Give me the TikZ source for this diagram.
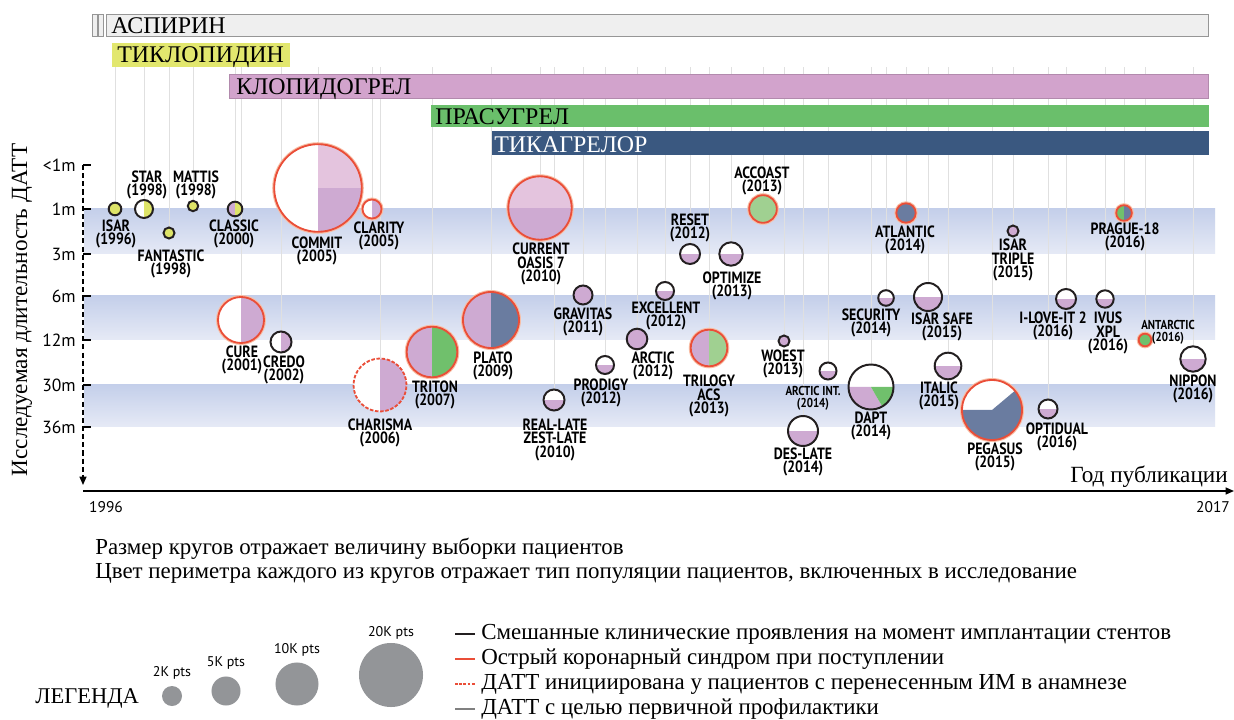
\documentclass[tikz,border=0pt]{standalone}
\usepackage{fontspec}
\setmainfont{Liberation Serif}
\newfontfamily\gill{PT Sans}[FakeStretch=0.85]
\newfontfamily\gillwide{PT Sans}
\usetikzlibrary{arrows.meta,backgrounds}

% Colours of the drugs and of the circles
\definecolor{aspfill}{RGB}{239,239,239}
\definecolor{aspline}{RGB}{150,150,150}
\definecolor{ticl}{RGB}{226,231,110}
\definecolor{clop}{RGB}{210,163,204}
\definecolor{pras}{RGB}{106,191,107}
\definecolor{tica}{RGB}{58,88,128}
\definecolor{cpurple}{RGB}{206,170,210}
\definecolor{cpink}{RGB}{228,196,222}
\definecolor{cyellow}{RGB}{222,228,104}
\definecolor{cgreen}{RGB}{112,192,108}
\definecolor{clgreen}{RGB}{160,208,145}
\definecolor{cblue}{RGB}{106,124,160}
\definecolor{acsred}{RGB}{234,78,56}
\definecolor{acsglow}{RGB}{248,190,165}
\definecolor{darkline}{RGB}{35,31,32}
\definecolor{bandtop}{RGB}{196,207,234}
\definecolor{bandbot}{RGB}{230,234,246}
\definecolor{guidegray}{RGB}{224,224,224}
\definecolor{leggray}{RGB}{147,149,152}

\tikzset{
  trial/.style={circle, inner sep=0pt, minimum size=#1*0.05cm},
  mixed/.style={draw=darkline, line width=1.4pt},
  acs/.style={draw=acsred, line width=1.3pt, preaction={draw=acsglow, line width=2.8pt}},
  priormi/.style={draw=acsred, line width=1.3pt, dash pattern=on 2.5pt off 1.2pt},
  quads/.style n args={4}{path picture={
      \fill[#1] (path picture bounding box.west) rectangle (path picture bounding box.north);
      \fill[#2] (path picture bounding box.center) rectangle (path picture bounding box.north east);
      \fill[#3] (path picture bounding box.south west) rectangle (path picture bounding box.center);
      \fill[#4] (path picture bounding box.south) rectangle (path picture bounding box.east);}},
  lowfill/.style={quads={white}{white}{cpurple}{cpurple}},
  lbl/.style={font=\gill\bfseries\fontsize{11.6}{9.9}\selectfont, align=center, inner sep=0pt},
  smalllbl/.style={font=\gill\bfseries\fontsize{9.2}{8.8}\selectfont, align=center, inner sep=0pt},
  barlbl/.style={anchor=base west, inner sep=0pt, font=\fontsize{17}{18}\selectfont},
  ticklbl/.style={anchor=east, inner sep=0pt, font=\gillwide\fontsize{12.5}{13}\selectfont},
  yearlbl/.style={inner sep=0pt, font=\gillwide\fontsize{11}{12}\selectfont},
  ptslbl/.style={inner sep=0pt, font=\gillwide\fontsize{10}{12}\selectfont},
  captext/.style={anchor=west, inner sep=0pt, font=\fontsize{16.3}{17}\selectfont},
  legtext/.style={anchor=west, inner sep=0pt, font=\fontsize{16.3}{17}\selectfont},
  axisline/.style={draw=black, line width=0.9pt},
  guide/.style={draw=guidegray, line width=0.6pt},
}

\begin{document}
\begin{tikzpicture}[x=0.025cm, y=-0.025cm]
\useasboundingbox (0,0) rectangle (1234,720);
\coordinate (top) at (0,67);

% Draw the drug bars
\draw[aspline, fill=aspfill] (92,14) rectangle (97,36);
\draw[aspline, fill=aspfill] (98,14) rectangle (103,36);
\draw[aspline, fill=aspfill] (106,14) rectangle (1208,36);
\node[barlbl] (aspirin) at (111,34) {АСПИРИН};
\fill[ticl] (112,43) rectangle (290,67);
\node[barlbl] (ticlopidine) at (117,63) {ТИКЛОПИДИН};
\draw[clop!85!black, line width=0.5pt, fill=clop] (229,74) rectangle (1208,98);
\node[barlbl] (clopidogrel) at (236,95) {КЛОПИДОГРЕЛ};
\fill[pras] (431,105) rectangle (1209,127);
\node[barlbl] (prasugrel) at (435,125) {ПРАСУГРЕЛ};
\fill[tica] (492,131) rectangle (1209,155);
\node[barlbl, text=white] (ticagrelor) at (494,153) {ТИКАГРЕЛОР};

% Axes
\coordinate (ytop) at (83,165);
\coordinate (ybot) at (83,485);
\coordinate (xstart) at (83,491);
\coordinate (xend) at (1234,491);
\draw[axisline, dash pattern=on 3.6pt off 2.2pt, -{Triangle[length=6pt,width=5pt]}] (ytop) -- (ybot);
\draw[axisline, -{Triangle[length=6pt,width=5pt]}] (xstart) -- (xend);
\foreach \ty/\tl [count=\i] in {165/{<1m},209/1m,254/3m,296/6m,340/12m,385/30m,427/36m}{
  \draw[axisline] (83,\ty) -- (91,\ty);
  \node[ticklbl] (tick\i) at (76,\ty) {\tl};
}
\node[rotate=90, font=\fontsize{16.5}{18}\selectfont] (ytitle) at (22,310) {Исследуемая длительность ДАТТ};
\node[anchor=base east, inner sep=0pt, font=\fontsize{16.5}{18}\selectfont] (xtitle) at (1228,482) {Год публикации};
\node[yearlbl] (y1996) at (106,507) {1996};
\node[yearlbl] (y2017) at (1213,507) {2017};

% Trials, 1996 - 2005
\node[trial=6.3, mixed, fill=cyellow] (isar) at (115,209) {};
\node[lbl] (isar-l) at (116,234) {ISAR\\(1996)};
\node[trial=9, mixed, quads={white}{cyellow}{white}{cyellow}] (star) at (144,209) {};
\node[lbl] (star-l) at (147,185) {STAR\\(1998)};
\node[trial=5.5, mixed, fill=cyellow] (fantastic) at (169,233) {};
\node[lbl] (fantastic-l) at (171,264) {FANTASTIC\\(1998)};
\node[trial=5.2, mixed, fill=cyellow] (mattis) at (193,206) {};
\node[lbl] (mattis-l) at (196,185) {MATTIS\\(1998)};
\node[trial=7.3, mixed, quads={cpurple}{cyellow}{cpurple}{cyellow}] (classic) at (235,209) {};
\node[lbl] (classic-l) at (234,234) {CLASSIC\\(2000)};
\node[trial=43.8, acs, quads={white}{cpink}{white}{cpurple}] (commit) at (318,188) {};
\node[lbl] (commit-l) at (317,251) {COMMIT\\(2005)};
\node[trial=9.5, acs, quads={white}{cpurple}{white}{cpurple}] (clarity) at (372,209) {};
\node[lbl] (clarity-l) at (379,236) {CLARITY\\(2005)};
\node[trial=23, acs, quads={white}{cpurple}{white}{cpurple}] (cure) at (241,320) {};
\node[lbl] (cure-l) at (242,360) {CURE\\(2001)};
\node[trial=10.5, mixed, quads={white}{cpurple}{white}{cpurple}] (credo) at (281,342) {};
\node[lbl] (credo-l) at (284,370) {CREDO\\(2002)};

% Trials, 2006 - 2012
\node[trial=26.5, priormi, quads={white}{cpurple}{white}{cpurple}] (charisma) at (380,385) {};
\node[lbl] (charisma-l) at (380,433) {CHARISMA\\(2006)};
\node[trial=25.3, acs, quads={cpurple}{cgreen}{cpurple}{cgreen}] (triton) at (432,352) {};
\node[lbl] (triton-l) at (435,395) {TRITON\\(2007)};
\node[trial=28, acs, quads={cpurple}{cblue}{cpurple}{cblue}] (plato) at (491,320) {};
\node[lbl] (plato-l) at (493,366) {PLATO\\(2009)};
\node[trial=31.7, acs, quads={cpink}{cpink}{cpurple}{cpurple}] (current) at (540,208) {};
\node[lbl] (current-l) at (541,264) {CURRENT\\OASIS 7\\(2010)};
\node[trial=10.5, mixed, lowfill] (reallate) at (554,400) {};
\node[lbl] (reallate-l) at (555,440) {REAL-LATE\\ZEST-LATE\\(2010)};
\node[trial=9.5, mixed, fill=cpurple] (gravitas) at (583,295) {};
\node[lbl] (gravitas-l) at (583,322) {GRAVITAS\\(2011)};
\node[trial=9, mixed, lowfill] (prodigy) at (605,365) {};
\node[lbl] (prodigy-l) at (601,393) {PRODIGY\\(2012)};
\node[trial=10.3, mixed, fill=cpurple] (arctic) at (637,339) {};
\node[lbl] (arctic-l) at (653,366) {ARCTIC\\(2012)};
\node[trial=9, mixed, lowfill] (excellent) at (665,291) {};
\node[lbl] (excellent-l) at (666,316) {EXCELLENT\\(2012)};
\node[trial=10, mixed, lowfill] (reset) at (690,254) {};
\node[lbl] (reset-l) at (690,228) {RESET\\(2012)};

% Trials, 2013 - 2014
\node[trial=11.7, mixed, lowfill] (optimize) at (731,254) {};
\node[lbl] (optimize-l) at (732,286) {OPTIMIZE\\(2013)};
\node[trial=13.8, acs, fill=clgreen] (accoast) at (763,209) {};
\node[lbl] (accoast-l) at (762,181) {ACCOAST\\(2013)};
\node[trial=18.3, acs, quads={cpurple}{clgreen}{cpurple}{clgreen}] (trilogy) at (709,348) {};
\node[lbl] (trilogy-l) at (709,396) {TRILOGY\\ACS\\(2013)};
\node[trial=5.5, mixed, fill=cpurple] (woest) at (784,341) {};
\node[lbl] (woest-l) at (783,364) {WOEST\\(2013)};
\node[trial=8.5, mixed, lowfill] (arcticint) at (828,371) {};
\node[smalllbl] (arcticint-l) at (813,398) {ARCTIC INT.\\(2014)};
\node[trial=15, mixed, lowfill] (deslate) at (803,431) {};
\node[lbl] (deslate-l) at (803,462) {DES-LATE\\(2014)};
\node[trial=22.5, mixed, path picture={
    \fill[white] (path picture bounding box.south west) rectangle (path picture bounding box.north east);
    \fill[cpurple] (path picture bounding box.center) -- ++(180:1cm) arc[start angle=180, end angle=300, radius=1cm] -- cycle;
    \fill[cgreen] (path picture bounding box.center) -- ++(300:1cm) arc[start angle=300, end angle=360, radius=1cm] -- cycle;}] (dapt) at (871,387) {};
\node[lbl] (dapt-l) at (871,426) {DAPT\\(2014)};
\node[trial=7.8, mixed, lowfill] (security) at (886,298) {};
\node[lbl] (security-l) at (871,323) {SECURITY\\(2014)};
\node[trial=9.7, acs, fill=cblue] (atlantic) at (906,213) {};
\node[lbl] (atlantic-l) at (905,240) {ATLANTIC\\(2014)};

% Trials, 2015 - 2016
\node[trial=14, mixed, lowfill] (isarsafe) at (928,297) {};
\node[lbl] (isarsafe-l) at (942,327) {ISAR SAFE\\(2015)};
\node[trial=13.3, mixed, lowfill] (italic) at (948,366) {};
\node[lbl] (italic-l) at (939,396) {ITALIC\\(2015)};
\node[trial=30, acs, path picture={
    \fill[white] (path picture bounding box.south west) rectangle (path picture bounding box.north east);
    \fill[cblue] (path picture bounding box.center) -- ++(180:1cm) arc[start angle=180, end angle=400, radius=1cm] -- cycle;}] (pegasus) at (992,410) {};
\node[lbl] (pegasus-l) at (995,457) {PEGASUS\\(2015)};
\node[trial=5.5, mixed, fill=cpurple] (isartriple) at (1013,231) {};
\node[lbl] (isartriple-l) at (1013,260) {ISAR\\TRIPLE\\(2015)};
\node[trial=9.5, mixed, lowfill] (optidual) at (1048,409) {};
\node[lbl] (optidual-l) at (1057,437) {OPTIDUAL\\(2016)};
\node[trial=10, mixed, lowfill] (iloveit) at (1066,299) {};
\node[lbl] (iloveit-l) at (1053,326) {I-LOVE-IT 2\\(2016)};
\node[trial=8.7, mixed, lowfill] (ivus) at (1105,299) {};
\node[lbl] (ivus-l) at (1108,333) {IVUS\\XPL\\(2016)};
\node[trial=7.8, acs, quads={cgreen}{cblue}{cgreen}{cblue}] (prague) at (1124,213) {};
\node[lbl] (prague-l) at (1125,237) {PRAGUE-18\\(2016)};
\node[trial=6.3, acs, fill=cgreen] (antarctic) at (1145,340) {};
\node[smalllbl] (antarctic-l) at (1168,332) {ANTARCTIC\\(2016)};
\node[trial=12.7, mixed, lowfill] (nippon) at (1193,359) {};
\node[lbl] (nippon-l) at (1193,389) {NIPPON\\(2016)};

% Captions
\node[captext] (cap1) at (95,549) {Размер кругов отражает величину выборки пациентов};
\node[captext] (cap2) at (95,573) {Цвет периметра каждого из кругов отражает тип популяции пациентов, включенных в исследование};

% Legend
\node[anchor=west, inner sep=0pt, font=\fontsize{16}{18}\selectfont] (legend) at (35,698) {ЛЕГЕНДА};
\node[trial=10, fill=leggray] (pts2) at (172,696) {};
\node[ptslbl] (pts2-l) at (172,673) {2K pts};
\node[trial=14.5, fill=leggray] (pts5) at (226,691) {};
\node[ptslbl] (pts5-l) at (226,663) {5K pts};
\node[trial=21.5, fill=leggray] (pts10) at (297,684) {};
\node[ptslbl] (pts10-l) at (297,650) {10K pts};
\node[trial=32, fill=leggray] (pts20) at (391,675) {};
\node[ptslbl] (pts20-l) at (391,633) {20K pts};
\node[legtext] (leg1) at (481,634) {Смешанные клинические проявления на момент имплантации стентов};
\draw[darkline, line width=0.9pt] (leg1.west) ++(-26,0) -- ++(20,0);
\node[legtext] (leg2) at (481,659) {Острый коронарный синдром при поступлении};
\draw[acsred, line width=0.9pt] (leg2.west) ++(-26,0) -- ++(20,0);
\node[legtext] (leg3) at (481,684) {ДАТТ инициирована у пациентов с перенесенным ИМ в анамнезе};
\draw[acsred, line width=0.9pt, dash pattern=on 2pt off 1pt] (leg3.west) ++(-26,0) -- ++(20,0);
\node[legtext] (leg4) at (481,709) {ДАТТ с целью первичной профилактики};
\draw[gray, line width=0.9pt] (leg4.west) ++(-26,0) -- ++(20,0);

% Bands and guides behind everything
\begin{scope}[on background layer]
\fill[white] (0,0) rectangle (1234,720);
\foreach \a/\b in {209/254,296/340,385/427}
  \shade[top color=bandtop, bottom color=bandbot] (84,\a) rectangle (1215,\b);
\foreach \n in {isar,star,fantastic,mattis,classic,commit,clarity,cure,credo,charisma,triton,plato,current,reallate,gravitas,prodigy,arctic,excellent,reset,optimize,accoast,trilogy,woest,arcticint,deslate,dapt,security,atlantic,isarsafe,italic,pegasus,isartriple,optidual,iloveit,ivus,prague,antarctic,nippon}
  \draw[guide] (\n) -- (\n |- top);
\end{scope}
\end{tikzpicture}
\end{document}
